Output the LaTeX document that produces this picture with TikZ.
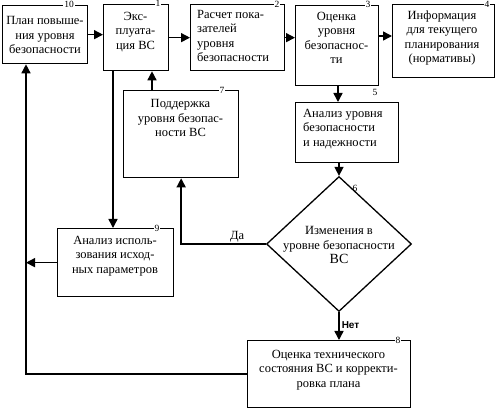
\documentclass[tikz,border=0pt]{standalone}
\usepackage{fontspec}
\setmainfont{Liberation Serif}
\newfontfamily\sansbold{Liberation Sans}
\usetikzlibrary{shapes.geometric,arrows.meta,calc}
\newcommand{\fs}{\fontsize{12.5}{14.5}\selectfont}
\begin{document}
\begin{tikzpicture}[x=1pt,y=-1pt,
  box/.style={draw, line width=1.3pt, inner sep=0pt, anchor=north west},
  txt/.style={align=center, font=\fs, inner sep=0pt},
  ltxt/.style={align=left, font=\fs, inner sep=0pt},
  num/.style={fill=white, font=\fontsize{9.5}{10}\selectfont, inner sep=1pt},
  ln/.style={line width=1.5pt},
  arr/.style={line width=1.5pt, -{Triangle[length=9pt,width=9pt]}}]
\useasboundingbox (0,0) rectangle (499,409);
% boxes
\node[box, minimum width=85pt, minimum height=58pt] (b10) at (2,5) {};
\node[box, minimum width=65pt, minimum height=66pt] (b1) at (103,4) {};
\node[box, minimum width=94pt, minimum height=66pt] (b2) at (190,4) {};
\node[box, minimum width=83pt, minimum height=80pt] (b3) at (295,5) {};
\node[box, minimum width=102pt, minimum height=73pt] (b4) at (392,4) {};
\node[box, minimum width=103pt, minimum height=60pt] (b5) at (295,102) {};
\node[box, minimum width=115pt, minimum height=87pt] (b7) at (123,90) {};
\node[box, minimum width=116pt, minimum height=68pt] (b9) at (57,228) {};
\node[box, minimum width=163pt, minimum height=67pt] (b8) at (247,340) {};
\node[diamond, draw, line width=1.3pt, inner sep=0pt, minimum width=145pt, minimum height=135pt] (d6) at (339,244) {};
% texts
\node[txt] (t10) at (45,35) {План повыше-\\ния уровня\\безопасности};
\node[txt] (t1) at (135.5,32) {Экс-\\плуата-\\ция ВС};
\node[ltxt, anchor=west] (t2) at (197,36) {Расчет пока-\\зателей\\уровня\\безопасности};
\node[txt] (t3) at (336.5,38) {Оценка\\уровня\\безопаснос-\\ти};
\node[txt] (t4) at (442,38) {Информация\\для текущего\\планирования\\(нормативы)};
\node[ltxt, anchor=west] (t5) at (303,129) {Анализ уровня\\безопасности\\и надежности};
\node[txt] (t7) at (180.5,118) {Поддержка\\уровня безопас-\\ности ВС};
\node[txt] (t9) at (115,256) {Анализ исполь-\\зования исход-\\ных параметров};
\node[txt] (t8) at (328.5,370) {Оценка технического\\состояния ВС и корректи-\\ровка плана};
\node[txt] (t6) at (339,245) {Изменения в\\уровне безопасности\\{\fontsize{14}{15}\selectfont ВС}};
% numbers
\node[num] (n10) at (69,4) {10};
\node[num] (n1) at (158,3) {1};
\node[num] (n2) at (277,4) {2};
\node[num] (n3) at (368,4) {3};
\node[num] (n4) at (487,4) {4};
\node[num, fill=none] (n5) at (375,92) {5};
\node[num, fill=none] (n6) at (355,188) {6};
\node[num] (n7) at (222,90) {7};
\node[num] (n9) at (157,228) {9};
\node[num] (n8) at (398,340) {8};
% connector anchors
\coordinate (cL) at (26,373);
\coordinate (p34) at ($(b3.north east)+(0,31)$);
\coordinate (p35) at ($(b3.south west)+(43,0)$);
\coordinate (p71) at ($(b7.north west)+(29,0)$);
\coordinate (p19) at ($(b1.south west)+(10,0)$);
% connectors
\draw[arr] (b10.east) -- (b10.east -| b1.west);
\draw[arr] (b1.east) -- (b1.east -| b2.west);
\draw[arr] (b2.east) -- (b2.east -| b3.west);
\draw[arr] (p34) -- (p34 -| b4.west);
\draw[arr] (p35) -- (p35 |- b5.north);
\draw[arr] (d6.north |- b5.south) -- (d6.north);
\draw[arr] (d6.south) -- (d6.south |- b8.north) node[pos=0.45, right, font=\sansbold\bfseries\fontsize{10}{12}\selectfont, inner sep=2pt] (lnet) {Нет};
\draw[arr] (d6.west) -| (b7.south) node[pos=0.17, above, font=\fs, inner sep=1.5pt] (lda) {Да};
\draw[arr] (p71) -- (p71 |- b1.south);
\draw[arr] (p19) -- (p19 |- b9.north);
\draw[arr] (b9.west) -- (b9.west -| cL);
\draw[arr] (b8.west) -- (b8.west -| cL) -- (cL |- b10.south);
\end{tikzpicture}
\end{document}
